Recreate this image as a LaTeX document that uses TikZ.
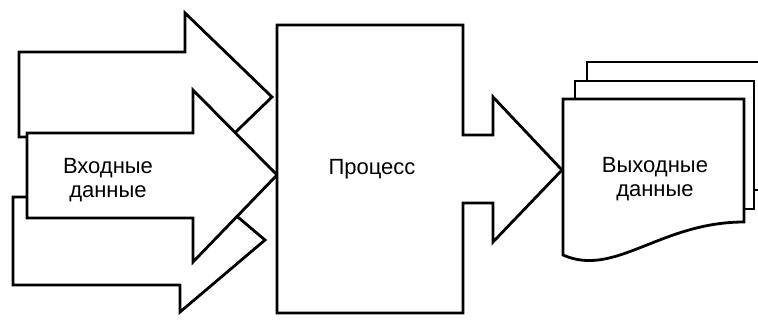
\documentclass[tikz,border=0pt]{standalone}
\usepackage{fontspec}
\setmainfont{Liberation Sans}

\begin{document}
\begin{tikzpicture}[x=1pt,y=-1pt,
    blockshape/.style={draw=black,fill=white,line width=2.8pt,line join=miter},
    blocktext/.style={font=\fontsize{22}{24}\selectfont,align=center,inner sep=0pt}]
  \useasboundingbox (0,0) rectangle (758,321);

  % input arrows: lower, upper, then the front one on top
  \draw[blockshape] (13,197) -- (180,197) -- (180,168) -- (265,240) -- (180,312)
    -- (180,285) -- (13,285) -- cycle;
  \draw[blockshape] (19,52) -- (185,52) -- (185,13) -- (272,97) -- (185,181)
    -- (185,137) -- (19,137) -- cycle;
  \draw[blockshape] (27,133) -- (193,133) -- (193,90) -- (277,175) -- (193,262)
    -- (193,218) -- (27,218) -- cycle;

  % process box with its output arrow
  \draw[blockshape] (277,25) -- (463,25) -- (463,135) -- (493,135) -- (493,97)
    -- (562,170) -- (493,242) -- (493,203) -- (463,203) -- (463,313)
    -- (277,313) -- cycle;

  % stack of output documents (back one runs off the page)
  \draw[blockshape] (587,62) rectangle (766,190);
  \draw[blockshape] (575,81) rectangle (754,209);
  \draw[blockshape] (563,99) -- (744,99) -- (744,222)
    .. controls (660,222) and (615,278) .. (563,255) -- cycle;

  \node[blocktext] (input)   at (108,180) {Входные\\данные};
  \node[blocktext] (process) at (372,169) {Процесс};
  \node[blocktext] (output)  at (655,179) {Выходные\\данные};
\end{tikzpicture}
\end{document}
